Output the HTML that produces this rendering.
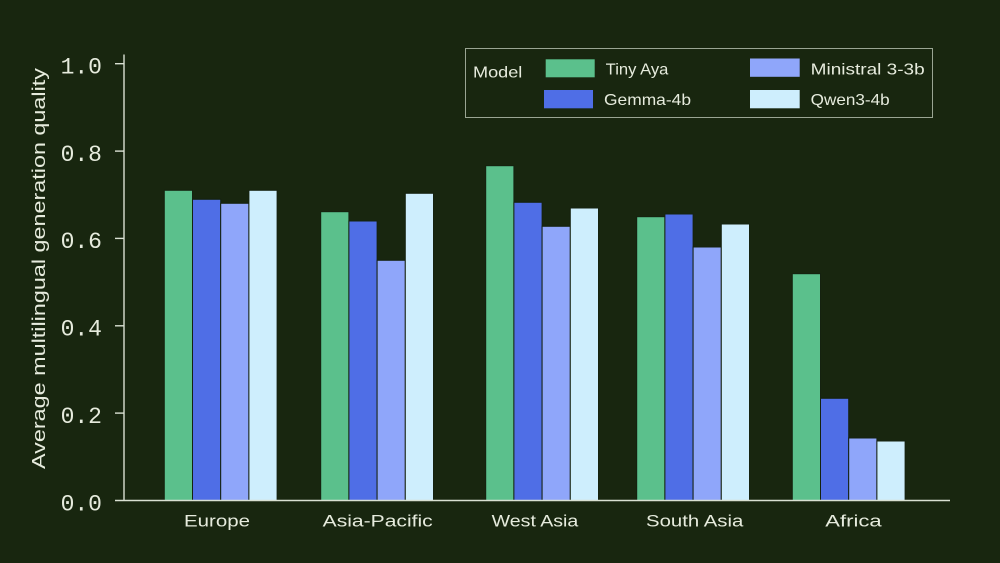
<!DOCTYPE html>
<html>
<head>
<meta charset="utf-8">
<style>
  html,body{margin:0;padding:0;background:#18260f;}
  svg{display:block;}
  text{font-family:"Liberation Sans",sans-serif;fill:#e6ebdd;}
  .mono{font-family:"Liberation Mono",monospace;}
</style>
</head>
<body>
<svg width="1000" height="563" viewBox="0 0 1000 563" xmlns="http://www.w3.org/2000/svg">
  <rect x="0" y="0" width="1000" height="563" fill="#18260f"/>

  <!-- bars -->
  <g stroke="#152210" stroke-width="1">
    <!-- Europe -->
    <rect x="164.3" y="190.3" width="28.2" height="310.2" fill="#5bc08c"/>
    <rect x="192.5" y="199.3" width="28.2" height="301.2" fill="#4f6ee6"/>
    <rect x="220.7" y="203.3" width="28.2" height="297.2" fill="#8fa6fa"/>
    <rect x="248.9" y="190.3" width="28.2" height="310.2" fill="#ceeefd"/>
    <!-- Asia-Pacific -->
    <rect x="320.7" y="211.7" width="28.2" height="288.8" fill="#5bc08c"/>
    <rect x="348.9" y="221" width="28.2" height="279.5" fill="#4f6ee6"/>
    <rect x="377.1" y="260.3" width="28.2" height="240.2" fill="#8fa6fa"/>
    <rect x="405.3" y="193.3" width="28.2" height="307.2" fill="#ceeefd"/>
    <!-- West Asia -->
    <rect x="485.7" y="165.7" width="28.2" height="334.8" fill="#5bc08c"/>
    <rect x="513.9" y="202.3" width="28.2" height="298.2" fill="#4f6ee6"/>
    <rect x="542.1" y="226.3" width="28.2" height="274.2" fill="#8fa6fa"/>
    <rect x="570.3" y="208" width="28.2" height="292.5" fill="#ceeefd"/>
    <!-- South Asia -->
    <rect x="636.7" y="216.7" width="28.2" height="283.8" fill="#5bc08c"/>
    <rect x="664.9" y="214" width="28.2" height="286.5" fill="#4f6ee6"/>
    <rect x="693.1" y="247" width="28.2" height="253.5" fill="#8fa6fa"/>
    <rect x="721.3" y="224" width="28.2" height="276.5" fill="#ceeefd"/>
    <!-- Africa -->
    <rect x="792.3" y="273.7" width="28.2" height="226.8" fill="#5bc08c"/>
    <rect x="820.5" y="398.3" width="28.2" height="102.2" fill="#4f6ee6"/>
    <rect x="848.7" y="438" width="28.2" height="62.5" fill="#8fa6fa"/>
    <rect x="876.9" y="441" width="28.2" height="59.5" fill="#ceeefd"/>
  </g>

  <!-- axes -->
  <g stroke="#d9e0d2" stroke-width="1.4" fill="none">
    <line x1="124" y1="54.5" x2="124" y2="500.5"/>
    <line x1="115" y1="500.5" x2="950" y2="500.5"/>
    <line x1="115" y1="63.7" x2="124" y2="63.7"/>
    <line x1="115" y1="151.1" x2="124" y2="151.1"/>
    <line x1="115" y1="238.4" x2="124" y2="238.4"/>
    <line x1="115" y1="325.8" x2="124" y2="325.8"/>
    <line x1="115" y1="413.1" x2="124" y2="413.1"/>
  </g>

  <!-- y tick labels -->
  <g class="mono" font-size="23" text-anchor="end">
    <text class="mono" x="102" y="73.5">1.0</text>
    <text class="mono" x="102" y="160.9">0.8</text>
    <text class="mono" x="102" y="248.2">0.6</text>
    <text class="mono" x="102" y="335.6">0.4</text>
    <text class="mono" x="102" y="422.9">0.2</text>
    <text class="mono" x="102" y="510.3">0.0</text>
  </g>

  <!-- y axis label -->
  <text x="0" y="0" font-size="18" transform="translate(45,469) rotate(-90)" textLength="401" lengthAdjust="spacingAndGlyphs">Average multilingual generation quality</text>

  <!-- x labels -->
  <g font-size="17">
    <text x="184" y="526.7" textLength="66" lengthAdjust="spacingAndGlyphs">Europe</text>
    <text x="322.7" y="526.7" textLength="110" lengthAdjust="spacingAndGlyphs">Asia-Pacific</text>
    <text x="491.7" y="526.7" textLength="86.6" lengthAdjust="spacingAndGlyphs">West Asia</text>
    <text x="646" y="526.7" textLength="97.3" lengthAdjust="spacingAndGlyphs">South Asia</text>
    <text x="825.3" y="526.7" textLength="56.4" lengthAdjust="spacingAndGlyphs">Africa</text>
  </g>

  <!-- legend -->
  <rect x="465.5" y="48.5" width="467" height="69" fill="#18260f" stroke="#9aa593" stroke-width="1"/>
  <g font-size="16">
    <text x="473" y="77.7" textLength="49.3" lengthAdjust="spacingAndGlyphs">Model</text>
    <rect x="545.7" y="59.3" width="49" height="18" fill="#5bc08c"/>
    <text x="605.7" y="74.3" textLength="62.7" lengthAdjust="spacingAndGlyphs">Tiny Aya</text>
    <rect x="544" y="90" width="49" height="18.3" fill="#4f6ee6"/>
    <text x="604" y="105" textLength="87" lengthAdjust="spacingAndGlyphs">Gemma-4b</text>
    <rect x="750" y="58.5" width="49.7" height="18.3" fill="#8fa6fa"/>
    <text x="810.7" y="74.3" textLength="114" lengthAdjust="spacingAndGlyphs">Ministral 3-3b</text>
    <rect x="750" y="90" width="49.7" height="18.3" fill="#ceeefd"/>
    <text x="810.7" y="105" textLength="79" lengthAdjust="spacingAndGlyphs">Qwen3-4b</text>
  </g>
</svg>
</body>
</html>
